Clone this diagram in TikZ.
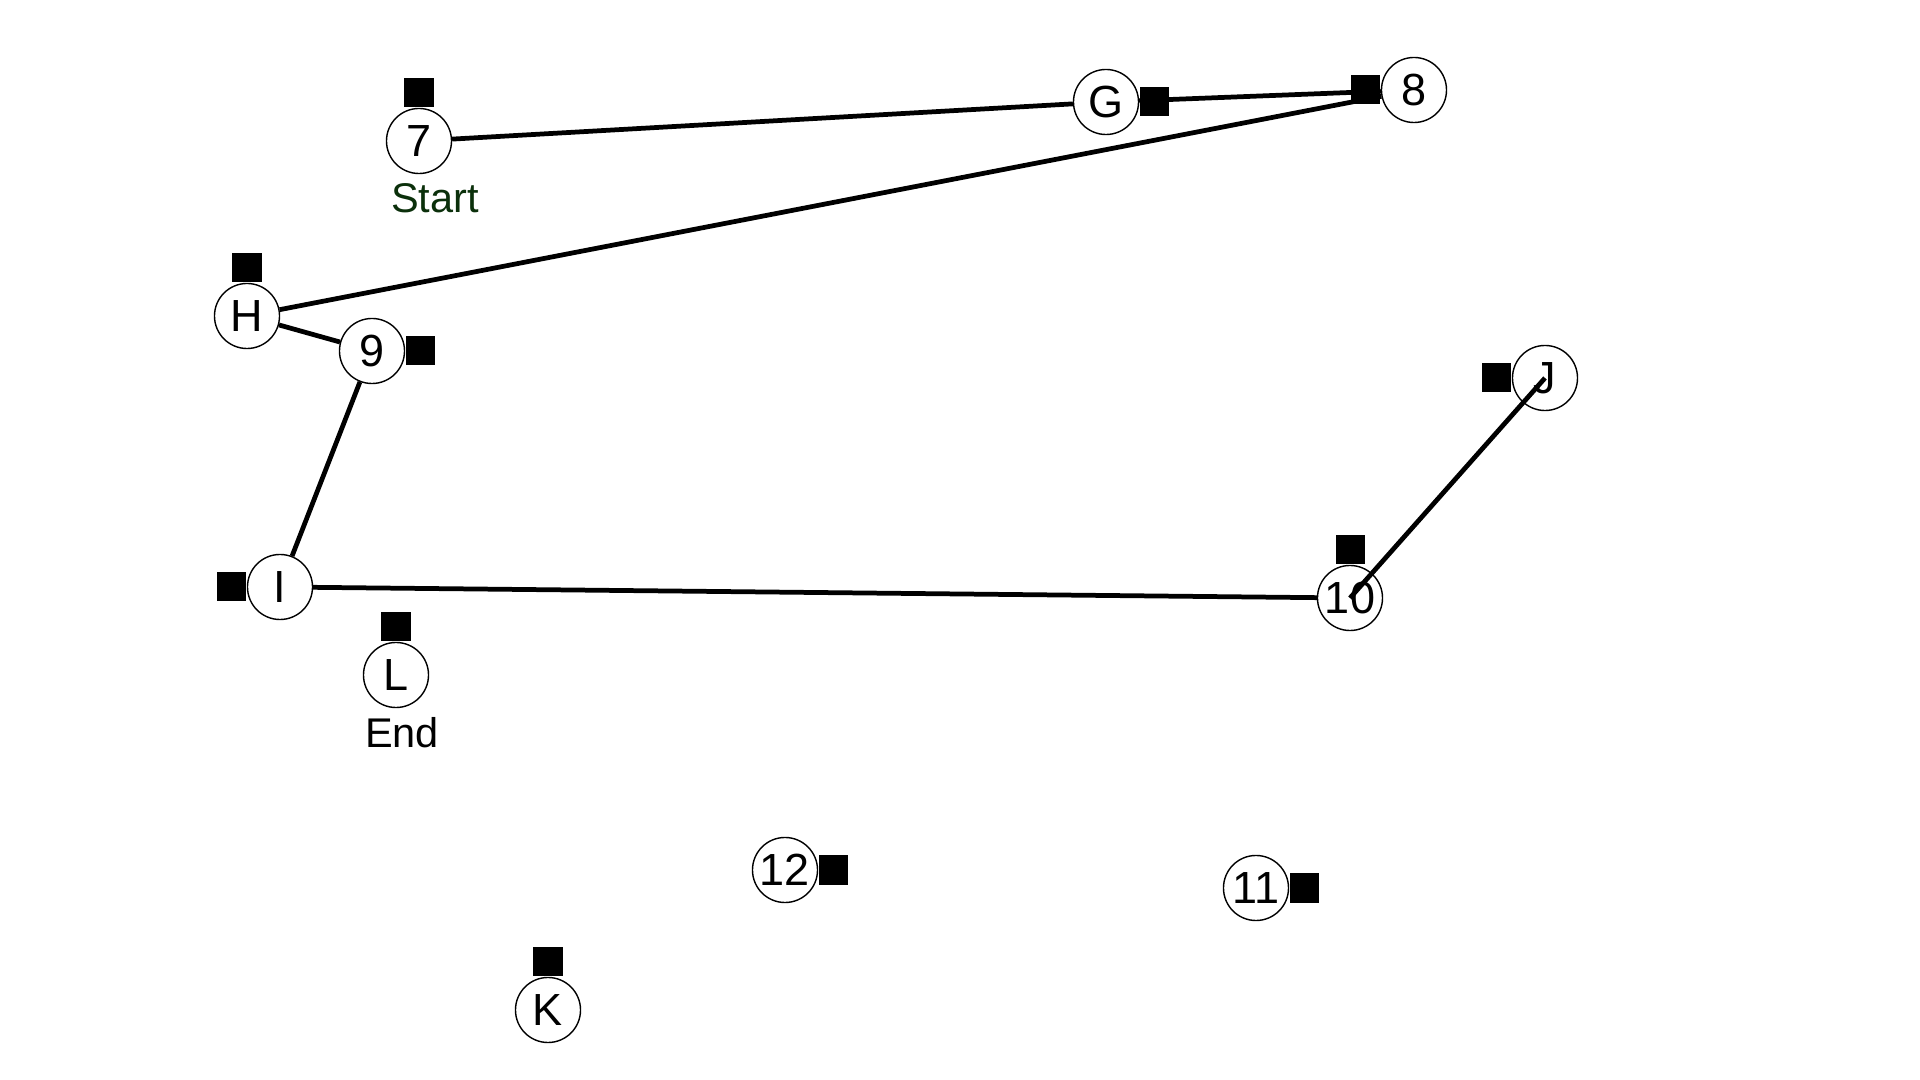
\documentclass[tikz,border=0pt]{standalone}
\usepackage{fontspec}
\setmainfont{Liberation Sans}
\usepackage{tikz}
\usetikzlibrary{positioning}
\definecolor{kstart}{HTML}{0B300B}
\tikzset{
  wpt/.style={circle, draw=black, line width=0.4pt, fill=white, minimum size=0.65cm, inner sep=0pt, font=\fontsize{12.8}{14}\selectfont},
  flag/.style={rectangle, fill=black, minimum size=0.29cm, inner sep=0pt},
  leg/.style={line width=1.35pt, black},
  tag/.style={font=\fontsize{11.8}{13}\selectfont}
}
\begin{document}
\begin{tikzpicture}[x=0.01cm, y=-0.01cm]
\useasboundingbox[fill=white] (0,0) rectangle (1920,1080);
% stops
\node[wpt] (s7)  at (419,141)  {7};
\node[wpt] (sG)  at (1106,102) {G};
\node[wpt] (s8)  at (1414,90)  {8};
\node[wpt] (sH)  at (247,316)  {H};
\node[wpt] (s9)  at (372,351)  {9};
\node[wpt] (sI)  at (280,587)  {I};
\node[wpt] (sL)  at (396,675)  {L};
\node[wpt] (s10) at (1350,598) {10};
\node[wpt] (sJ)  at (1545,378) {J};
\node[wpt] (s12) at (785,870)  {12};
\node[wpt] (s11) at (1256,888) {11};
\node[wpt] (sK)  at (548,1010) {K};
% start / end
\node[tag, text=kstart] (start) at (435,198) {Start};
\node[tag] (end) at (402,733) {End};
% route
\draw[leg] (s7) -- (sG);
\draw[leg] (sG) -- (s8);
\draw[leg] (s8) -- (sH);
\draw[leg] (sH) -- (s9);
\draw[leg] (s9) -- (sI);
\draw[leg] (sI) -- (s10);
\draw[leg] (s10.center) -- (sJ.center);
% markers
\node[flag, above=0pt of s7]  (f7)  {};
\node[flag, right=0pt of sG]  (fG)  {};
\node[flag, left=0pt of s8]   (f8)  {};
\node[flag, above=0pt of sH]  (fH)  {};
\node[flag, right=0pt of s9]  (f9)  {};
\node[flag, left=0pt of sI]   (fI)  {};
\node[flag, above=0pt of sL]  (fL)  {};
\node[flag, above=0pt of s10] (f10) {};
\node[flag, left=0pt of sJ]   (fJ)  {};
\node[flag, right=0pt of s12] (f12) {};
\node[flag, right=0pt of s11] (f11) {};
\node[flag, above=0pt of sK]  (fK)  {};
\end{tikzpicture}
\end{document}
